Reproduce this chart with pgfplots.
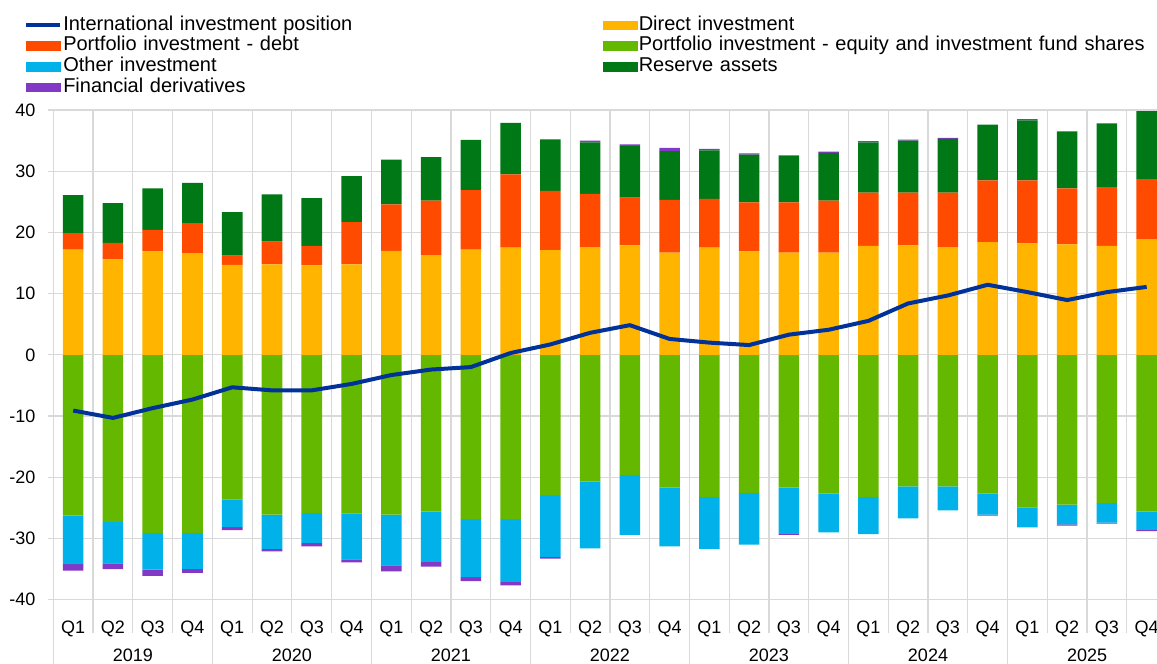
\documentclass[border=0pt]{standalone}
\usepackage{pgfplots}
\usepackage{pgfplotstable}
\pgfplotsset{compat=1.18}
\usepackage{fontspec}
\setmainfont{Liberation Sans}

\definecolor{cDI}{HTML}{FFB400}
\definecolor{cDebt}{HTML}{FF4B00}
\definecolor{cRes}{HTML}{007816}
\definecolor{cEq}{HTML}{65B800}
\definecolor{cOth}{HTML}{00B1EA}
\definecolor{cDer}{HTML}{8139C6}
\definecolor{cIIP}{HTML}{003299}
\definecolor{gridc}{HTML}{D9D9D9}

\pgfplotstableread{
x D Debt Res DerP Eq Oth DerN IIP
0 17.2 2.7 6.2 0 -26.25 -7.95 -1.05 -9.1
1 15.6 2.7 6.5 0 -27.3 -6.75 -0.95 -10.3
2 16.9 3.5 6.8 0 -29.1 -6.0 -1.0 -8.7
3 16.6 4.9 6.6 0 -29.1 -5.9 -0.6 -7.3
4 14.7 1.5 7.1 0 -23.6 -4.55 -0.5 -5.3
5 14.8 3.7 7.7 0 -26.1 -5.6 -0.4 -5.8
6 14.6 3.2 7.8 0 -25.8 -4.9 -0.6 -5.8
7 14.8 6.9 7.5 0 -25.9 -7.5 -0.5 -4.75
8 17.0 7.6 7.3 0 -26.1 -8.3 -0.95 -3.3
9 16.3 8.9 7.1 0 -25.6 -8.2 -0.8 -2.4
10 17.2 9.7 8.2 0 -26.8 -9.5 -0.65 -2.0
11 17.5 12.0 8.4 0 -26.8 -10.3 -0.55 0.3
12 17.1 9.7 8.4 0 -22.9 -10.1 -0.3 1.7
13 17.6 8.7 8.4 0.3 -20.7 -10.9 0 3.6
14 17.9 7.8 8.4 0.3 -19.65 -9.75 0 4.85
15 16.7 8.6 8.0 0.5 -21.7 -9.6 0 2.6
16 17.5 8.0 7.9 0.25 -23.2 -8.5 0 2.0
17 16.9 8.0 7.8 0.2 -22.6 -8.4 0 1.6
18 16.7 8.2 7.6 0.1 -21.7 -7.55 -0.15 3.3
19 16.7 8.5 7.8 0.2 -22.65 -6.35 0 4.1
20 17.8 8.7 8.2 0.2 -23.2 -6.1 0 5.55
21 17.9 8.6 8.5 0.15 -21.5 -5.2 0 8.4
22 17.6 8.9 8.8 0.15 -21.5 -3.9 0 9.7
23 18.4 10.1 9.1 0 -22.65 -3.45 -0.15 11.45
24 18.2 10.3 9.8 0.2 -24.9 -3.3 0 10.25
25 18.05 9.15 9.3 0 -24.45 -3.25 -0.2 8.95
26 17.8 9.6 10.4 0 -24.2 -3.2 -0.15 10.25
27 18.9 9.8 11.1 0 -25.6 -3.0 -0.2 11.1
}\datatable

\pgfplotsset{
  base/.style={
    scale only axis, width=827.75pt, height=367.3pt,
    xmin=-0.5, xmax=27.26, ymin=-40, ymax=40,
    enlargelimits=false, bar width=15.4pt,
    clip=false,
  },
}

\begin{document}
\begin{tikzpicture}
% axis 1: grid, ticks, legend, negative stack
\begin{axis}[base, ybar stacked,
  axis line style={draw=none},
  ytick={-40,-30,...,40},
  yticklabels={-40,-30,-20,-10,0,10,20,30,40},
  ymajorgrids, grid style={gridc, line width=0.9pt},
  tick align=outside,
  ytick style={draw=gridc, line width=0.9pt},
  major tick length=4pt,
  xtick={0,...,27},
  xticklabels={Q1,Q2,Q3,Q4,Q1,Q2,Q3,Q4,Q1,Q2,Q3,Q4,Q1,Q2,Q3,Q4,Q1,Q2,Q3,Q4,Q1,Q2,Q3,Q4,Q1,Q2,Q3,Q4},
  xtick style={draw=none},
  tick label style={font=\fontsize{13.5}{16}\selectfont},
  xticklabel style={anchor=base, yshift=-21pt},
  yticklabel style={anchor=east, xshift=-6pt},
  legend columns=2,
  legend cell align=left,
  legend style={at={(-0.02688,1.19466)}, anchor=north west, draw=none, fill=none,
    inner sep=0pt, row sep=0pt, column sep=0pt,
    font=\fontsize{15}{18}\selectfont,
    nodes={inner xsep=1pt, inner ysep=0pt, text height=11.5pt, text depth=4pt, text width=403.75pt, align=left}},
]
\addlegendimage{legend image code/.code={\draw[cIIP, line width=3pt] (0pt,0pt) -- (25.5pt,0pt);}}
\addlegendentry{International investment position}
\addlegendimage{legend image code/.code={\fill[cDI] (0pt,-3.2pt) rectangle (25.5pt,3.2pt);}}
\addlegendentry{Direct investment}
\addlegendimage{legend image code/.code={\fill[cDebt] (0pt,-3.2pt) rectangle (25.5pt,3.2pt);}}
\addlegendentry{Portfolio investment - debt}
\addlegendimage{legend image code/.code={\fill[cEq] (0pt,-3.2pt) rectangle (25.5pt,3.2pt);}}
\addlegendentry{Portfolio investment - equity and investment fund shares}
\addlegendimage{legend image code/.code={\fill[cOth] (0pt,-3.2pt) rectangle (25.5pt,3.2pt);}}
\addlegendentry{Other investment}
\addlegendimage{legend image code/.code={\fill[cRes] (0pt,-3.2pt) rectangle (25.5pt,3.2pt);}}
\addlegendentry{Reserve assets}
\addlegendimage{legend image code/.code={\fill[cDer] (0pt,-3.2pt) rectangle (25.5pt,3.2pt);}}
\addlegendentry{Financial derivatives}

\pgfplotsinvokeforeach{0.5,1.5,...,26.5}{
  \draw[gridc, line width=0.9pt] (axis cs:#1,40) -- (axis cs:#1,-40) -- ++(0pt,-25.2pt);
}
\pgfplotsinvokeforeach{3.5,7.5,11.5,15.5,19.5,23.5}{
  \draw[gridc, line width=0.9pt] (axis cs:#1,-40) -- ++(0pt,-50pt);
}
\draw[gridc, line width=0.9pt] (axis cs:-0.5,40) -- (axis cs:-0.5,-40) -- ++(0pt,-50pt);

\addplot[fill=cEq, draw=none, forget plot] table[x=x, y=Eq] {\datatable};
\addplot[fill=cOth, draw=none, forget plot] table[x=x, y=Oth] {\datatable};
\addplot[fill=cDer, draw=none, forget plot] table[x=x, y=DerN] {\datatable};

\node[anchor=base, font=\fontsize{13.5}{16}\selectfont] at (axis cs:1.5,-40) [yshift=-46.3pt] {2019};
\node[anchor=base, font=\fontsize{13.5}{16}\selectfont] at (axis cs:5.5,-40) [yshift=-46.3pt] {2020};
\node[anchor=base, font=\fontsize{13.5}{16}\selectfont] at (axis cs:9.5,-40) [yshift=-46.3pt] {2021};
\node[anchor=base, font=\fontsize{13.5}{16}\selectfont] at (axis cs:13.5,-40) [yshift=-46.3pt] {2022};
\node[anchor=base, font=\fontsize{13.5}{16}\selectfont] at (axis cs:17.5,-40) [yshift=-46.3pt] {2023};
\node[anchor=base, font=\fontsize{13.5}{16}\selectfont] at (axis cs:21.5,-40) [yshift=-46.3pt] {2024};
\node[anchor=base, font=\fontsize{13.5}{16}\selectfont] at (axis cs:25.5,-40) [yshift=-46.3pt] {2025};
\end{axis}

% axis 2: positive stack
\begin{axis}[base, ybar stacked, hide axis]
\addplot[fill=cDI, draw=none] table[x=x, y=D] {\datatable};
\addplot[fill=cDebt, draw=none] table[x=x, y=Debt] {\datatable};
\addplot[fill=cRes, draw=none] table[x=x, y=Res] {\datatable};
\addplot[fill=cDer, draw=none] table[x=x, y=DerP] {\datatable};
\end{axis}

% axis 3: IIP line
\begin{axis}[base, hide axis]
\addplot[cIIP, line width=3pt, mark=none, line join=round] table[x=x, y=IIP] {\datatable};
\end{axis}

\pgfresetboundingbox
\useasboundingbox (-40pt,-47.5pt) rectangle (827.75pt,449.8pt);
\end{tikzpicture}
\end{document}
